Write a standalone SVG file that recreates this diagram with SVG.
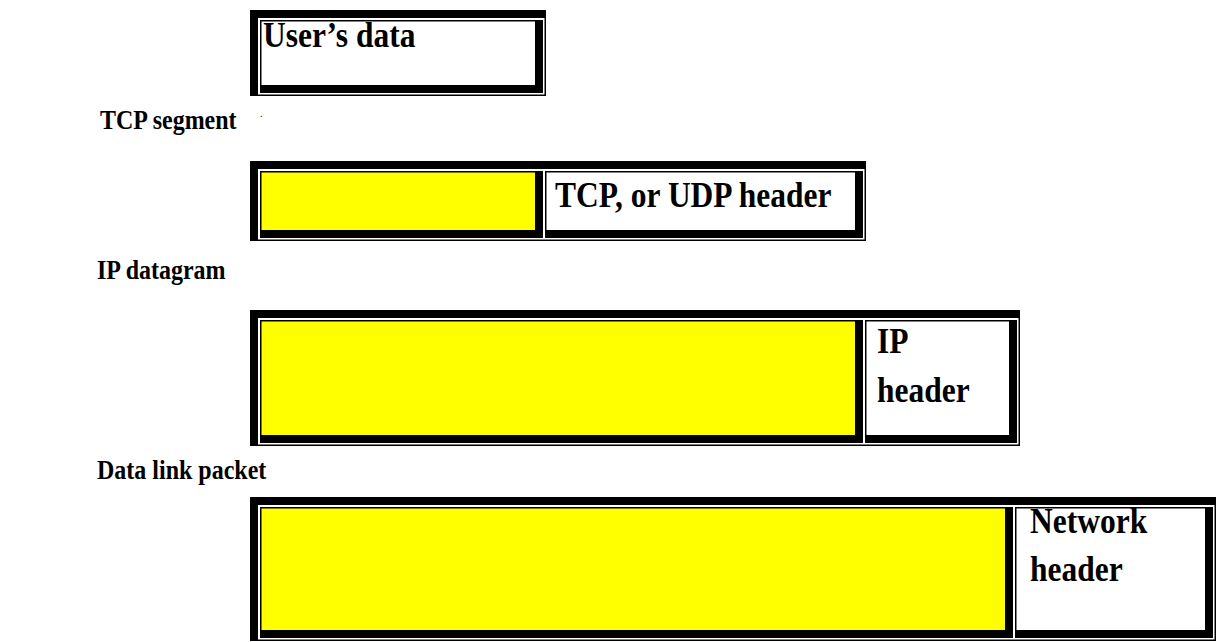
<svg xmlns="http://www.w3.org/2000/svg" width="1217" height="642" viewBox="0 0 1217 642">
<style>
.blk{fill:#000}
.wht{fill:#fff}
.yel{fill:#ffff00}
.lbl{font-family:"Liberation Serif","Times New Roman",serif;font-weight:bold;font-size:24px;fill:#000}
.txt{font-family:"Liberation Serif","Times New Roman",serif;font-weight:bold;font-size:31.5px;fill:#000}
</style>
<rect width="1217" height="642" fill="#fff"/>
<g id="labels">
<text class="lbl" transform="translate(100,129) scale(1,1.12)">TCP segment</text>
<text class="lbl" transform="translate(97,279) scale(1,1.12)">IP datagram</text>
<text class="lbl" transform="translate(97,479) scale(1,1.12)">Data link packet</text>
<text x="260" y="117" font-family="Liberation Serif,serif" font-size="10">.</text>
</g>
<g id="users-data">
<rect class="blk" x="250" y="10" width="296" height="86"/>
<rect class="wht" x="258" y="18" width="286.5" height="76.5"/>
<rect class="blk" x="260" y="20" width="283" height="73"/>
<rect class="wht" x="261.5" y="21.5" width="273.5" height="63.5"/>
<text class="txt" transform="translate(263,47) scale(1,1.12)">User’s data</text>
</g>
<g id="tcp-segment">
<rect class="blk" x="250" y="161" width="616" height="80"/>
<rect class="wht" x="258" y="169" width="606.5" height="70.5"/>
<rect class="blk" x="260" y="171" width="283" height="67"/>
<rect class="yel" x="261.5" y="172.5" width="273.5" height="57.5"/>
<rect class="blk" x="545" y="171" width="318" height="67"/>
<rect class="wht" x="546.5" y="172.5" width="308.5" height="57.5"/>
<text class="txt" transform="translate(555,207) scale(1,1.12)">TCP, or UDP header</text>
</g>
<g id="ip-datagram">
<rect class="blk" x="250" y="310" width="770" height="136"/>
<rect class="wht" x="258" y="318" width="760.5" height="126.5"/>
<rect class="blk" x="260" y="320" width="603" height="123"/>
<rect class="yel" x="261.5" y="321.5" width="593.5" height="113.5"/>
<rect class="blk" x="865" y="320" width="152" height="123"/>
<rect class="wht" x="866.5" y="321.5" width="142.5" height="113.5"/>
<text class="txt" transform="translate(877,353) scale(1,1.12)">IP</text>
<text class="txt" transform="translate(877,402) scale(1,1.12)">header</text>
</g>
<g id="data-link-packet">
<rect class="blk" x="250" y="497" width="966" height="144"/>
<rect class="wht" x="258" y="505" width="956.5" height="134.5"/>
<rect class="blk" x="260" y="507" width="753" height="131"/>
<rect class="yel" x="261.5" y="508.5" width="743.5" height="121.5"/>
<rect class="blk" x="1015" y="507" width="198" height="131"/>
<rect class="wht" x="1016.5" y="508.5" width="188.5" height="121.5"/>
<text class="txt" transform="translate(1030,533) scale(1,1.12)">Network</text>
<text class="txt" transform="translate(1030,581) scale(1,1.12)">header</text>
</g>
</svg>
